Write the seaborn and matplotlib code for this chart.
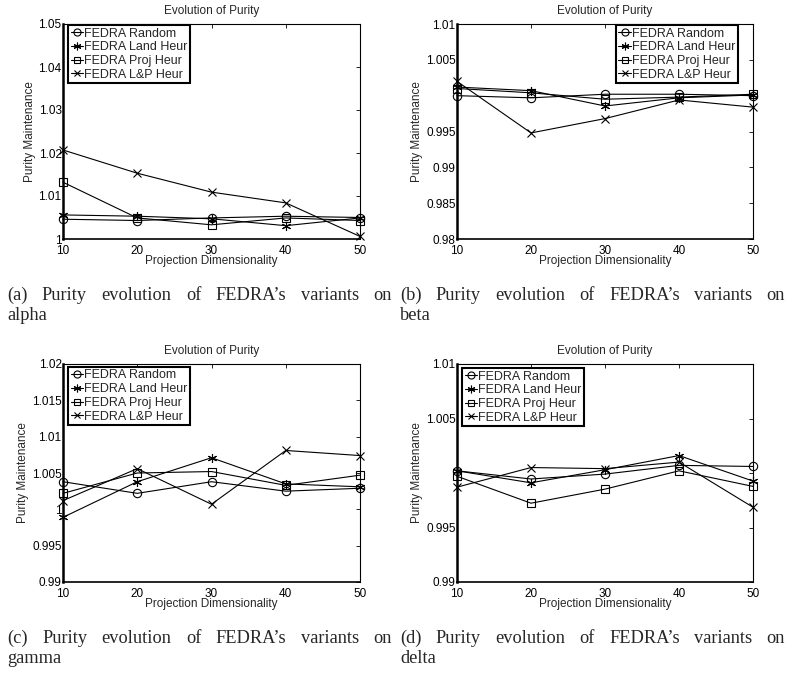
import numpy as np
import pandas as pd
import matplotlib
matplotlib.use("Agg")
import matplotlib.pyplot as plt
import seaborn as sns

sns.set_style("white")
plt.rcParams['font.family'] = ['Liberation Sans', 'DejaVu Sans']

dims = [10, 20, 30, 40, 50]
series_names = ["FEDRA Random", "FEDRA Land Heur", "FEDRA Proj Heur", "FEDRA L&P Heur"]

alpha_random = [1.0046, 1.0043, 1.0049, 1.0053, 1.0050]
alpha_land = [1.0056, 1.0053, 1.0047, 1.0031, 1.0049]
alpha_proj = [1.0132, 1.0049, 1.0033, 1.0049, 1.0043]
alpha_lp = [1.0207, 1.0153, 1.0109, 1.0084, 1.0006]

beta_random = [1.0000, 0.9997, 1.0002, 1.0002, 1.0000]
beta_land = [1.0012, 1.0007, 0.99856, 0.9997, 1.0001]
beta_proj = [1.0010, 1.0004, 0.9995, 0.9998, 1.0002]
beta_lp = [1.0020, 0.9948, 0.9968, 0.9994, 0.9984]

gamma_random = [1.0038, 1.0022, 1.0038, 1.0025, 1.0029]
gamma_land = [0.9989, 1.0038, 1.0071, 1.0035, 1.0031]
gamma_proj = [1.0022, 1.0050, 1.0052, 1.0033, 1.0047]
gamma_lp = [1.0012, 1.0056, 1.0007, 1.0081, 1.0074]

delta_random = [1.0002, 0.99945, 0.9999, 1.0007, 1.0006]
delta_land = [1.0002, 0.9991, 1.0003, 1.0016, 0.99926]
delta_proj = [0.9997, 0.99723, 0.99852, 1.0002, 0.99877]
delta_lp = [0.9987, 1.0005, 1.0004, 1.0010, 0.99686]

ylims = {"alpha": (1.0, 1.05), "beta": (0.98, 1.01), "gamma": (0.99, 1.02), "delta": (0.99, 1.01)}
yticks = {
    "alpha": ([1.0, 1.01, 1.02, 1.03, 1.04, 1.05], ["1", "1.01", "1.02", "1.03", "1.04", "1.05"]),
    "beta": ([0.98, 0.985, 0.99, 0.995, 1.0, 1.005, 1.01], ["0.98", "0.985", "0.99", "0.995", "", "1.005", "1.01"]),
    "gamma": ([0.99, 0.995, 1.0, 1.005, 1.01, 1.015, 1.02], ["0.99", "0.995", "1", "1.005", "1.01", "1.015", "1.02"]),
    "delta": ([0.99, 0.995, 1.0, 1.005, 1.01], ["0.99", "0.995", "", "1.005", "1.01"]),
}
datasets = {
    "alpha": [alpha_random, alpha_land, alpha_proj, alpha_lp],
    "beta": [beta_random, beta_land, beta_proj, beta_lp],
    "gamma": [gamma_random, gamma_land, gamma_proj, gamma_lp],
    "delta": [delta_random, delta_land, delta_proj, delta_lp],
}
letters = {"alpha": "a", "beta": "b", "gamma": "c", "delta": "d"}

W, H = 791, 673
fig = plt.figure(figsize=(W / 100, H / 100), dpi=100)

# axes pixel boxes: left, top, right, bottom
boxes = {
    "alpha": (63, 24, 360, 239),
    "beta": (457, 24, 753, 239),
    "gamma": (63, 364, 360, 582),
    "delta": (457, 364, 753, 582),
}
# legend anchor offsets in pixels (dx from left/right edge, dy from top)
legend_cfg = {
    "alpha": ("upper left", 5, 1),
    "beta": ("upper right", 15, 1),
    "gamma": ("upper left", 5, 3),
    "delta": ("upper left", 5, 4),
}
markers = ["o", (6, 2, 0), "s", "x"]
msizes = [6, 6.5, 5.5, 5.5]

for name, (l, t, r, b) in boxes.items():
    ax = fig.add_axes([l / W, 1 - b / H, (r - l) / W, (b - t) / H])
    rows = []
    for sname, vals in zip(series_names, datasets[name]):
        for d, v in zip(dims, vals):
            rows.append({"dim": d, "val": v, "series": sname})
    df = pd.DataFrame(rows)
    for sname, mk, ms in zip(series_names, markers, msizes):
        sub = df[df["series"] == sname]
        sns.lineplot(data=sub, x="dim", y="val", ax=ax, color="black", marker=mk,
                     markersize=ms, markerfacecolor="none", markeredgecolor="black",
                     markeredgewidth=0.8, linewidth=0.8, label=sname, clip_on=False)
    ax.set_xlim(10, 50)
    ax.set_ylim(*ylims[name])
    ax.set_xticks(dims)
    ax.set_xticklabels([str(d) for d in dims])
    tv, tl = yticks[name]
    ax.set_yticks(tv)
    ax.set_yticklabels(tl)
    ax.tick_params(direction="in", length=3, width=0.6, top=True, right=True,
                   labelsize=8.5, colors="black")
    ax.tick_params(axis="y", pad=1)
    ax.tick_params(axis="x", pad=4)
    for s in ["top", "right"]:
        ax.spines[s].set_linewidth(0.8)
    ax.spines["left"].set_linewidth(1.8)
    ax.spines["bottom"].set_linewidth(1.2)
    for s in ax.spines.values():
        s.set_color("black")
    ax.set_title("Evolution of Purity", fontsize=8.5, pad=7)
    ax.set_xlabel("Projection Dimensionality", fontsize=8.5, labelpad=-1)
    ax.set_ylabel("Purity Maintenance", fontsize=8.5, labelpad=2)
    loc, dx, dy = legend_cfg[name]
    aw, ah = r - l, b - t
    if loc == "upper left":
        anchor = (dx / aw, 1 - dy / ah)
    else:
        anchor = (1 - dx / aw, 1 - dy / ah)
    leg = ax.legend(loc=loc, bbox_to_anchor=anchor, fontsize=9, handlelength=1.0,
                    handletextpad=0.1, borderpad=0.2, labelspacing=0.14, borderaxespad=0,
                    fancybox=False, framealpha=1, edgecolor="black", markerscale=0.85)
    leg.get_frame().set_linewidth(1.5)

# captions with justified first line
fig.canvas.draw()
renderer = fig.canvas.get_renderer()
cap_font = dict(family=["Liberation Serif", "DejaVu Serif"], fontsize=13.2)


def justified(text, x0, x1, ypix):
    words = text.split(" ")
    widths = []
    for w in words:
        tt = fig.text(0, 0, w, **cap_font)
        widths.append(tt.get_window_extent(renderer).width)
        tt.remove()
    gap = (x1 - x0 - sum(widths)) / (len(words) - 1)
    x = x0
    for w, wd in zip(words, widths):
        fig.text(x / W, 1 - ypix / H, w, va="baseline", ha="left", **cap_font)
        x += wd + gap


caption_pos = {"alpha": (7, 300), "beta": (400, 300), "gamma": (7, 643), "delta": (400, 643)}
for name, (x0, y0) in caption_pos.items():
    justified(f"({letters[name]}) Purity evolution of FEDRA\u2019s variants on", x0, x0 + 385, y0)
    fig.text(x0 / W, 1 - (y0 + 20) / H, name, va="baseline", ha="left", **cap_font)

fig.savefig("out.png", dpi=100)
